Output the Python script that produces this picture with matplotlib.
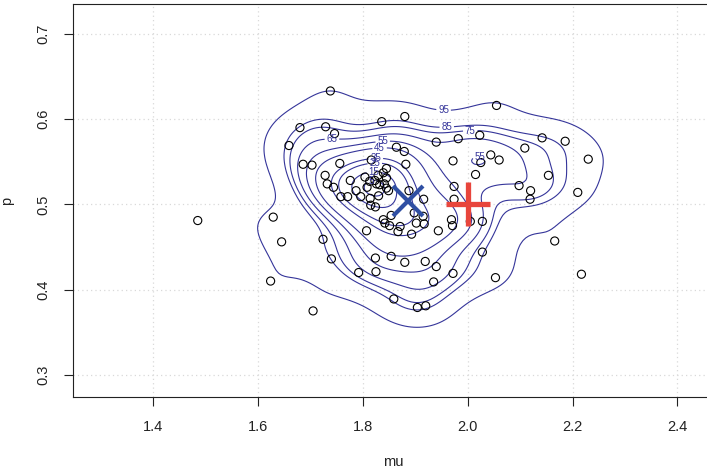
import numpy as np
import matplotlib
matplotlib.use("Agg")
from matplotlib import pyplot as plt

# posterior draws
mu = [1.485, 1.629, 1.645, 1.624, 1.705, 1.724, 1.740, 1.792, 1.738, 1.680,
      1.729, 1.746, 1.659, 1.686, 1.703, 1.756, 1.728, 1.732, 1.744, 1.776,
      1.758, 1.771, 1.787, 1.796, 1.815, 1.824, 1.807,
      1.836, 1.880, 1.940, 1.982, 2.023, 1.864, 1.879, 1.882, 1.816, 1.972,
      2.025, 2.044, 2.060, 2.015, 2.055, 2.109, 2.142, 2.186, 2.230, 2.154,
      2.098, 2.120, 2.119, 2.210, 1.974, 1.974, 1.916, 1.888,
      1.845, 1.839, 1.829, 1.845, 1.804, 1.813, 1.823, 1.832, 1.826, 1.841,
      1.845, 1.808, 1.849, 1.830, 1.814,
      1.854, 1.839, 1.842, 1.851, 1.871, 1.867, 1.893, 1.898, 1.915, 1.902,
      1.917, 1.944, 1.969, 1.971, 2.005, 2.028, 2.028, 2.053, 2.166, 2.217,
      1.824, 1.854, 1.880, 1.919, 1.940, 1.972, 1.825, 1.935, 1.859, 1.904,
      1.920]
p = [0.481, 0.485, 0.456, 0.410, 0.375, 0.459, 0.436, 0.420, 0.633, 0.590,
     0.591, 0.583, 0.569, 0.547, 0.546, 0.548, 0.534, 0.524, 0.520, 0.528,
     0.509, 0.509, 0.516, 0.509, 0.499, 0.497, 0.469,
     0.597, 0.603, 0.573, 0.577, 0.581, 0.567, 0.562, 0.547, 0.552, 0.551,
     0.549, 0.558, 0.552, 0.535, 0.616, 0.566, 0.578, 0.574, 0.553, 0.534,
     0.522, 0.516, 0.506, 0.514, 0.521, 0.506, 0.506, 0.516,
     0.542, 0.537, 0.534, 0.531, 0.532, 0.527, 0.528, 0.523, 0.524, 0.524,
     0.519, 0.520, 0.516, 0.510, 0.507,
     0.487, 0.482, 0.478, 0.475, 0.474, 0.468, 0.465, 0.490, 0.486, 0.478,
     0.477, 0.469, 0.482, 0.475, 0.480, 0.480, 0.444, 0.414, 0.457, 0.418,
     0.437, 0.439, 0.432, 0.433, 0.427, 0.419, 0.421, 0.409, 0.389, 0.379,
     0.381]

post_mean = (1.886, 0.504)
true_val = (2.0, 0.5)
hpd_levels = [5, 15, 25, 35, 45, 55, 65, 75, 85, 95]
# where the level labels sit (label, mu, p)
label_spots = {95: [(1.954, 0.611)], 85: [(1.960, 0.591)], 75: [(2.005, 0.585)],
               65: [(1.741, 0.579)], 55: [(1.838, 0.572), (2.023, 0.557)],
               45: [(1.832, 0.565)], 35: [(1.825, 0.552)], 25: [(1.823, 0.543)],
               15: [(1.821, 0.533)], 5: [(1.817, 0.523)]}

xticks = [1.4, 1.6, 1.8, 2.0, 2.2, 2.4]
yticks = [0.3, 0.4, 0.5, 0.6, 0.7]

x = np.array(mu)
y = np.array(p)
n = len(x)


# kde2d style bandwidth (bandwidth.nrd / 4)
def bw(v):
    q = np.percentile(v, [25, 75])
    return 1.06 * min(np.std(v, ddof=1), (q[1] - q[0]) / 1.34) * n ** -0.2


hx, hy = bw(x), bw(y)


def dens(ax_, ay_):
    out = np.zeros_like(ax_, dtype=float)
    for xi, yi in zip(x, y):
        out += np.exp(-0.5 * (((ax_ - xi) / hx) ** 2 + ((ay_ - yi) / hy) ** 2))
    return out


gx = np.linspace(1.3, 2.5, 220)
gy = np.linspace(0.28, 0.73, 220)
GX, GY = np.meshgrid(gx, gy)
Z = dens(GX, GY)

# levels: fraction of draws inside each contour
dpts = dens(x, y)

plt.rcParams['font.family'] = ['Liberation Sans', 'DejaVu Sans']
fig = plt.figure(figsize=(7.07, 4.76), dpi=100)
ax = fig.add_axes([73 / 707, 79 / 476, 640 / 707, 393 / 476])

ax.grid(True, color='#d9d9d9', linestyle=(0, (1, 2.5)), linewidth=0.9, zorder=5)

ccol = '#35359a'
for lv in hpd_levels:
    th = np.quantile(dpts, 1 - lv / 100.0)
    cs = ax.contour(GX, GY, Z, levels=[th], colors=ccol, linewidths=0.8, zorder=2)
    txts = ax.clabel(cs, fmt={th: str(lv)}, fontsize=7, inline=True,
                     inline_spacing=2, colors=ccol, manual=label_spots[lv])
    for t in txts:
        t.set_rotation(0)

ax.scatter(x, y, s=34, facecolors='none', edgecolors='black', linewidths=0.8, zorder=3)
ax.plot(*true_val, marker='+', markersize=31, mew=3.8, color='#e8453c', zorder=4)
ax.plot(*post_mean, marker='x', markersize=21, mew=3.0, color='#2f4fa3', zorder=4)

ax.set_xlim(1.247, 2.468)
ax.set_ylim(0.274, 0.735)
ax.set_xticks(xticks)
ax.set_xticklabels([f'{t:.1f}' for t in xticks])
ax.set_yticks(yticks)
ax.set_yticklabels([f'{t:.1f}' for t in yticks], rotation=90, va='center')
ax.tick_params(length=6.5, width=0.8, pad=10, labelsize=10.5, colors='#222222')
for sp in ax.spines.values():
    sp.set_linewidth(0.8)
    sp.set_color('#222222')
ax.set_xlabel('mu', fontsize=10.5, labelpad=15, color='#222222')
ax.set_ylabel('p', fontsize=10.5, labelpad=16, color='#222222')

fig.savefig('out.png', dpi=100)
